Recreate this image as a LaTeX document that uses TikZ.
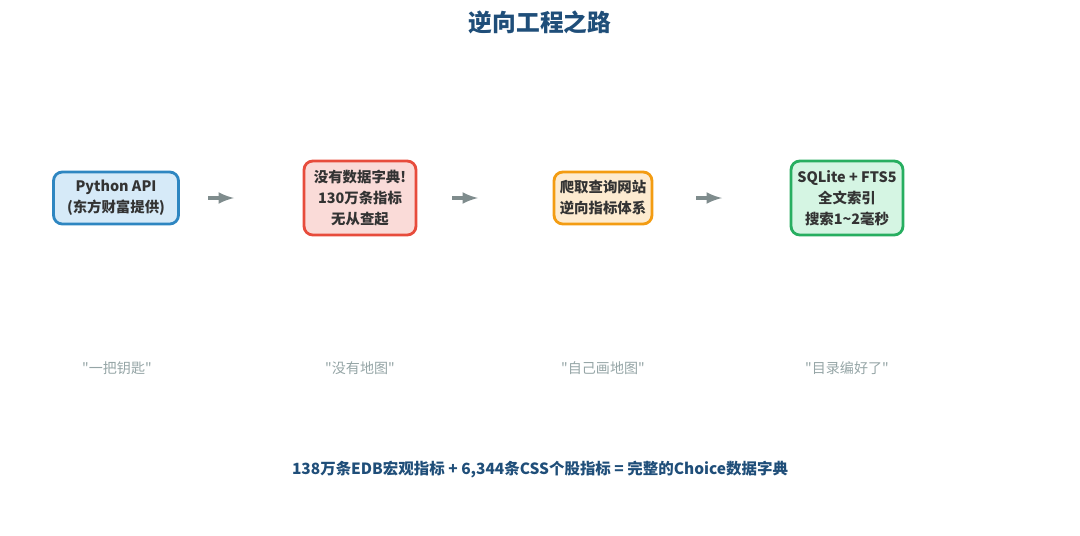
\documentclass[tikz,border=0pt]{standalone}
\usepackage{fontspec}
\setmainfont{Noto Sans CJK SC}[Ligatures=TeXOff]
\usepackage{tikz}
\usetikzlibrary{positioning}
\usepackage{xcolor}

\definecolor{titleblue}{HTML}{1F4E79}
\definecolor{boxtext}{HTML}{333333}
\definecolor{arrowgray}{HTML}{7F8C8D}
\definecolor{quotegray}{HTML}{95A5A6}
\definecolor{apiline}{HTML}{2E86C1}
\definecolor{apifill}{HTML}{D6EAF8}
\definecolor{noline}{HTML}{E74C3C}
\definecolor{nofill}{HTML}{FADBD8}
\definecolor{crawlline}{HTML}{F39C12}
\definecolor{crawlfill}{HTML}{FDEBD0}
\definecolor{dbline}{HTML}{27AE60}
\definecolor{dbfill}{HTML}{D5F5E3}

\begin{document}
\begin{tikzpicture}[
    x=0.02cm, y=-0.02cm,
    stage/.style={
        rectangle,
        rounded corners=5pt,
        line width=1.6pt,
        align=center,
        text=boxtext,
        font=\fontsize{8.2}{12}\selectfont\bfseries,
        inner sep=0pt
    },
    flow/.style={
        -latex,
        line width=2pt,
        draw=arrowgray
    },
    remark/.style={
        text=quotegray,
        font=\fontsize{8}{10}\selectfont
    }
]

\useasboundingbox (0,0) rectangle (1080,535);

\node[font=\fontsize{13.5}{16}\selectfont\bfseries, text=titleblue] (title) at (540,22)
{逆向工程之路};

% the four stages
\node[stage, draw=apiline, fill=apifill, minimum width=2.5cm, minimum height=1.04cm] (api) at (116,198)
{Python API\\(东方财富提供)};

\node[stage, draw=noline, fill=nofill, minimum width=2.24cm, minimum height=1.48cm] (nomap) at (360,198)
{没有数据字典!\\130万条指标\\无从查起};

\node[stage, draw=crawlline, fill=crawlfill, minimum width=1.96cm, minimum height=1.04cm] (crawl) at (603,198)
{爬取查询网站\\逆向指标体系};

\node[stage, draw=dbline, fill=dbfill, minimum width=2.24cm, minimum height=1.48cm] (fts) at (847,198)
{SQLite + FTS5\\全文索引\\搜索1\textasciitilde 2毫秒};

% arrows between stages
\coordinate (a1s) at (208,198);
\coordinate (a1e) at (234,198);
\coordinate (a2s) at (452,198);
\coordinate (a2e) at (478,198);
\coordinate (a3s) at (696,198);
\coordinate (a3e) at (722,198);

\draw[flow] (a1s) -- (a1e);
\draw[flow] (a2s) -- (a2e);
\draw[flow] (a3s) -- (a3e);

% remarks
\node[remark] (key) at (117,368) {"一把钥匙"};
\node[remark] (lost) at (360,368) {"没有地图"};
\node[remark] (draw) at (603,368) {"自己画地图"};
\node[remark] (index) at (847,368) {"目录编好了"};

\node[font=\fontsize{8.8}{10}\selectfont\bfseries, text=titleblue] (summary) at (540,470)
{138万条EDB宏观指标 + 6,344条CSS个股指标 = 完整的Choice数据字典};

\end{tikzpicture}
\end{document}
